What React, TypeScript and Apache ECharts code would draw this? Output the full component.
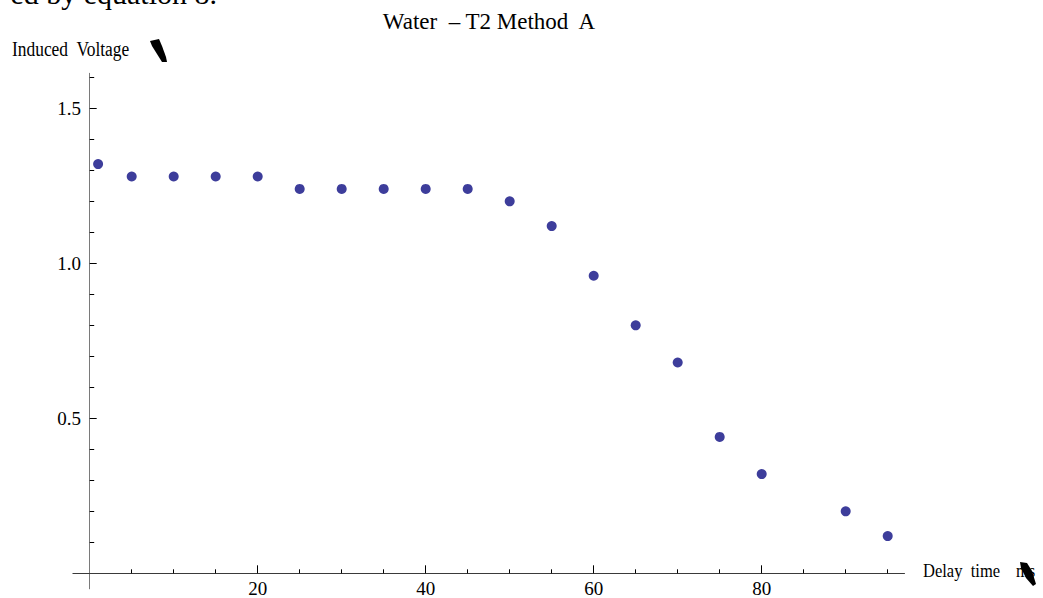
import React, { useEffect, useRef } from "react";
import * as echarts from "echarts";

const delayTimes = [1, 5, 10, 15, 20, 25, 30, 35, 40, 45, 50, 55, 60, 65, 70, 75, 80, 90, 95];
const inducedVoltage = [1.32, 1.28, 1.28, 1.28, 1.28, 1.24, 1.24, 1.24, 1.24, 1.24, 1.2, 1.12, 0.96, 0.8, 0.68, 0.44, 0.32, 0.2, 0.12];

const xMajorTicks = [20, 40, 60, 80];
const xMinorTicks = [5, 10, 15, 25, 30, 35, 45, 50, 55, 65, 70, 75, 85, 90, 95];
const yMajorTicks = [0.5, 1.0, 1.5];
const yMinorTicks = [0.1, 0.2, 0.3, 0.4, 0.6, 0.7, 0.8, 0.9, 1.1, 1.2, 1.3, 1.4, 1.6];

const titleText = "Water  \u2013 T2 Method  A";
const yLabelText = "Induced  Voltage";
const xLabelText = "Delay  time";
const xUnitText = "ms";
const topCutText = "ed by equation 8.";

const SERIF = "'Liberation Serif', 'Times New Roman', serif";

export default function App() {
  const ref = useRef<HTMLDivElement>(null);

  useEffect(() => {
    if (!ref.current) return;
    const chart = echarts.init(ref.current, null, { renderer: "svg" });

    const X_MIN = -2, X_MAX = 97, Y_MIN = -0.05, Y_MAX = 1.613;

    const option: any = {
      animation: false,
      backgroundColor: "#ffffff",
      grid: {
        left: 72.9,
        top: 73.3,
        width: 831.6,
        height: 515.5,
        containLabel: false,
        outerBoundsMode: "none",
      },
      xAxis: [
        {
          type: "value",
          min: X_MIN,
          max: X_MAX,
          position: "bottom",
          axisLine: { onZero: true, onZeroAxisIndex: 0, lineStyle: { color: "#3a3a3a", width: 1 } },
          axisTick: { show: true, inside: true, length: 8, customValues: xMajorTicks, lineStyle: { color: "#000", width: 1 } },
          axisLabel: {
            customValues: xMajorTicks,
            margin: -10,
            color: "#000",
            fontFamily: SERIF,
            fontSize: 19,
            formatter: (v: number) => String(v),
          },
          splitLine: { show: false },
        },
        {
          type: "value",
          min: X_MIN,
          max: X_MAX,
          position: "bottom",
          offset: 0,
          axisLine: { show: false, onZero: true, onZeroAxisIndex: 0 },
          axisTick: { show: true, inside: true, length: 4, customValues: xMinorTicks, lineStyle: { color: "#000", width: 1 } },
          axisLabel: { show: false },
          splitLine: { show: false },
        },
      ],
      yAxis: [
        {
          type: "value",
          min: Y_MIN,
          max: Y_MAX,
          position: "left",
          axisLine: { onZero: true, onZeroAxisIndex: 0, lineStyle: { color: "#7a7a7a", width: 1 } },
          axisTick: { show: true, inside: true, length: 7, customValues: yMajorTicks, lineStyle: { color: "#000", width: 1 } },
          axisLabel: {
            customValues: yMajorTicks,
            margin: -8,
            color: "#000",
            fontFamily: SERIF,
            fontSize: 19,
            formatter: (v: number) => v.toFixed(1),
          },
          splitLine: { show: false },
        },
        {
          type: "value",
          min: Y_MIN,
          max: Y_MAX,
          position: "left",
          offset: 0,
          axisLine: { show: false, onZero: true, onZeroAxisIndex: 0 },
          axisTick: { show: true, inside: true, length: 4.5, customValues: yMinorTicks, lineStyle: { color: "#000", width: 1 } },
          axisLabel: { show: false },
          splitLine: { show: false },
        },
      ],
      series: [
        {
          type: "scatter",
          xAxisIndex: 0,
          yAxisIndex: 0,
          data: delayTimes.map((x, i) => [x, inducedVoltage[i]]),
          symbol: "circle",
          symbolSize: 10,
          itemStyle: { color: "#3d3d9b", opacity: 1 },
          emphasis: { disabled: true },
          silent: true,
        },
      ],
      graphic: [
        {
          type: "text",
          x: 217,
          y: -6.5,
          style: { text: topCutText, textAlign: "right", textVerticalAlign: "middle", font: `30px ${SERIF}`, fill: "#000" },
          silent: true,
        },
        {
          type: "text",
          x: 489,
          y: 21.5,
          style: { text: titleText, textAlign: "center", textVerticalAlign: "middle", font: `23px ${SERIF}`, fill: "#000" },
          silent: true,
        },
        {
          type: "text",
          x: 12,
          y: 49.5,
          scaleX: 0.87,
          style: { text: yLabelText, textAlign: "left", textVerticalAlign: "middle", font: `20px ${SERIF}`, fill: "#000" },
          silent: true,
        },
        {
          type: "polygon",
          shape: {
            points: [[150, 41], [159, 39], [162, 46], [166, 57], [167, 62], [162, 62], [157, 54], [152, 46]],
          },
          style: { fill: "#000" },
          silent: true,
        },
        {
          type: "text",
          x: 923,
          y: 571,
          scaleX: 0.87,
          style: { text: xLabelText, textAlign: "left", textVerticalAlign: "middle", font: `19px ${SERIF}`, fill: "#000" },
          silent: true,
        },
        {
          type: "text",
          x: 1016,
          y: 571,
          scaleX: 0.87,
          style: { text: xUnitText, textAlign: "left", textVerticalAlign: "middle", font: `19px ${SERIF}`, fill: "#000" },
          silent: true,
        },
        {
          type: "polygon",
          shape: {
            points: [[1020, 562], [1027, 563], [1032, 571], [1036, 584], [1033, 586], [1026, 578], [1021, 568]],
          },
          style: { fill: "#000" },
          silent: true,
        },
      ],
    };

    chart.setOption(option);
    return () => chart.dispose();
  }, []);

  return (
    <div
      ref={ref}
      style={{ position: "absolute", left: 0, top: 0, width: 1043, height: 598, background: "#fff" }}
    />
  );
}
